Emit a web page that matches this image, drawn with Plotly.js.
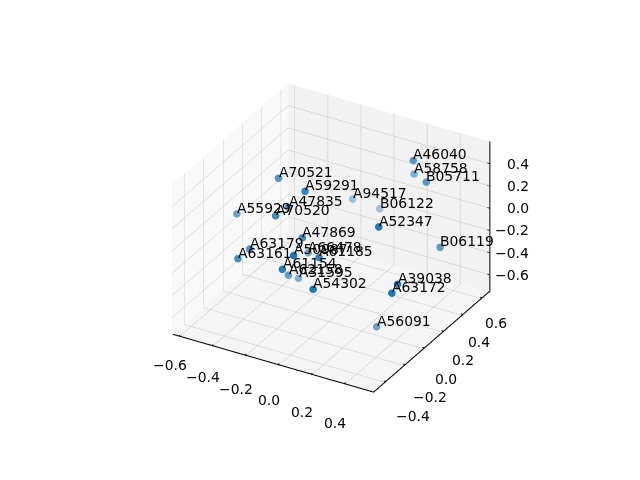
<!DOCTYPE html>
<html><head><meta charset="utf-8">
<script src="https://cdn.plot.ly/plotly-3.0.1.min.js"></script>
<style>html,body{margin:0;padding:0;background:#fff}</style></head>
<body><div id="g" style="width:640px;height:480px"></div>
<script>
const labels=["A46040","A58758","B05711","A70521","A59291","A94517","A47835","A55929","A70520","B06122","A52347","A47869","B06119","A63179","A63161","A50987","A66478","A61185","A61154","A62158","A31595","A54302","A39038","A63172","A56091"];
const xs=[0.275,0.176,0.362,-0.314,-0.085,-0.161,-0.261,-0.517,-0.217,-0.025,0.356,-0.067,0.48,-0.351,-0.363,0.007,-0.172,0.065,-0.056,-0.172,-0.212,0.14,0.486,0.502,0.266];
const ys=[0.402,0.58,0.388,0.014,-0.103,0.521,0.026,-0.07,-0.182,0.568,-0.095,-0.162,0.329,-0.22,-0.323,-0.38,0.078,-0.215,-0.388,-0.127,0.047,-0.405,-0.123,-0.21,0.038];
const zs=[0.505,0.207,0.359,0.386,0.455,-0.118,0.14,0.041,0.237,-0.183,0.317,0.089,-0.133,-0.09,-0.105,0.125,-0.272,0.007,-0.02,-0.319,-0.495,-0.103,-0.122,-0.13,-0.72];
const alphas=[0.75,0.55,0.75,0.75,0.9,0.4,0.7,0.65,0.85,0.4,1,0.85,0.7,0.75,0.8,1,0.6,0.9,0.95,0.7,0.55,1,0.95,1,0.65];
const xTicks=[-0.6,-0.4,-0.2,0,0.2,0.4];
const yTicks=[-0.4,-0.2,0,0.2,0.4,0.6];
const zTicks=[-0.6,-0.4,-0.2,0,0.2,0.4];
const xRange=[-0.64,0.58], yRange=[-0.53,0.675], zRange=[-0.76,0.6];
const fmt=v=>(v<0?"\u2212":"")+Math.abs(v).toFixed(1);
const font={family:"DejaVu Sans",size:13.9,color:"#000"};
const blend=a=>{const m=(c)=>Math.round(c*a+243*(1-a));return `rgb(${m(31)},${m(119)},${m(180)})`;};
const ax=(range,ticks,bg)=>({range:range,tickvals:ticks,ticktext:ticks.map(fmt),tickangle:0,title:{text:""},
 showbackground:true,backgroundcolor:bg,showgrid:true,gridcolor:"#c4c4c4",gridwidth:1,zeroline:false,
 showline:false,ticks:"",showspikes:false,showticklabels:false,tickfont:font});
const xMax=xRange[1], yMax=yRange[1], yMin=yRange[0], zMin=zRange[0];
const T=0.015, L=zMin+0.01, E=0.003;
// black axis edges and tick marks, placed where the reference draws them
const lx=[],ly=[],lz=[];
const seg=(a,b)=>{lx.push(a[0],b[0],null);ly.push(a[1],b[1],null);lz.push(a[2],b[2],null);};
seg([xMax,yMax,zMin],[xMax,yMax,zRange[1]]);
xTicks.forEach(v=>seg([v,yMin,L],[v,yMin+T,L]));
yTicks.forEach(v=>seg([xMax,v,L],[xMax-T,v,L]));
zTicks.forEach(v=>seg([xMax,yMax,v],[xMax-T,yMax,v]));
const base={showarrow:false,font:font,borderpad:0};
const pointAnn=labels.map((t,i)=>Object.assign({x:xs[i],y:ys[i],z:zs[i],text:t,xanchor:"left",yanchor:"middle",xshift:-1,yshift:6},base));
const zAnn=zTicks.map(z=>Object.assign({x:xMax,y:yMax,z:z,text:fmt(z),xanchor:"right",yanchor:"middle",xshift:40},base));
const xAnn=xTicks.map((v,i)=>Object.assign({x:v,y:yMin,z:zMin,text:fmt(v),xanchor:"center",yanchor:"middle",xshift:-9,yshift:-28-2*i},base));
const yAnn=yTicks.map((v,i)=>Object.assign({x:xMax,y:v,z:zMin,text:fmt(v),xanchor:"center",yanchor:"middle",xshift:27-2.8*i,yshift:-33+1.8*i},base));
Plotly.newPlot("g",[
 {type:"scatter3d",mode:"markers",x:xs,y:ys,z:zs,hoverinfo:"none",
  marker:{size:4.4,color:alphas.map(blend),line:{width:0}}},
 {type:"scatter3d",mode:"lines",x:lx,y:ly,z:lz,hoverinfo:"none",connectgaps:false,line:{color:"#000",width:2}},
 {type:"scatter3d",mode:"lines",x:[xRange[0]+E,xMax-E,xMax-E],y:[yMin+E,yMin+E,yMax-E],z:[L,L,L],hoverinfo:"none",line:{color:"#000",width:2}}],
 {width:640,height:480,margin:{l:0,r:0,t:0,b:0},paper_bgcolor:"#fff",showlegend:false,
 scene:{domain:{x:[0.035,1],y:[0.006,1]},aspectmode:"manual",aspectratio:{x:0.976,y:0.976,z:0.732},
  camera:{projection:{type:"orthographic"},eye:{x:0.95,y:-1.65,z:1.1},up:{x:0,y:0,z:1},center:{x:0,y:0,z:0}},
  annotations:pointAnn.concat(zAnn,xAnn,yAnn),
  xaxis:ax(xRange,xTicks,"#f9f9f9"),yaxis:ax(yRange,yTicks,"#f2f2f2"),zaxis:ax(zRange,zTicks,"#f5f5f5")}},
 {displayModeBar:false});
</script></body></html>
